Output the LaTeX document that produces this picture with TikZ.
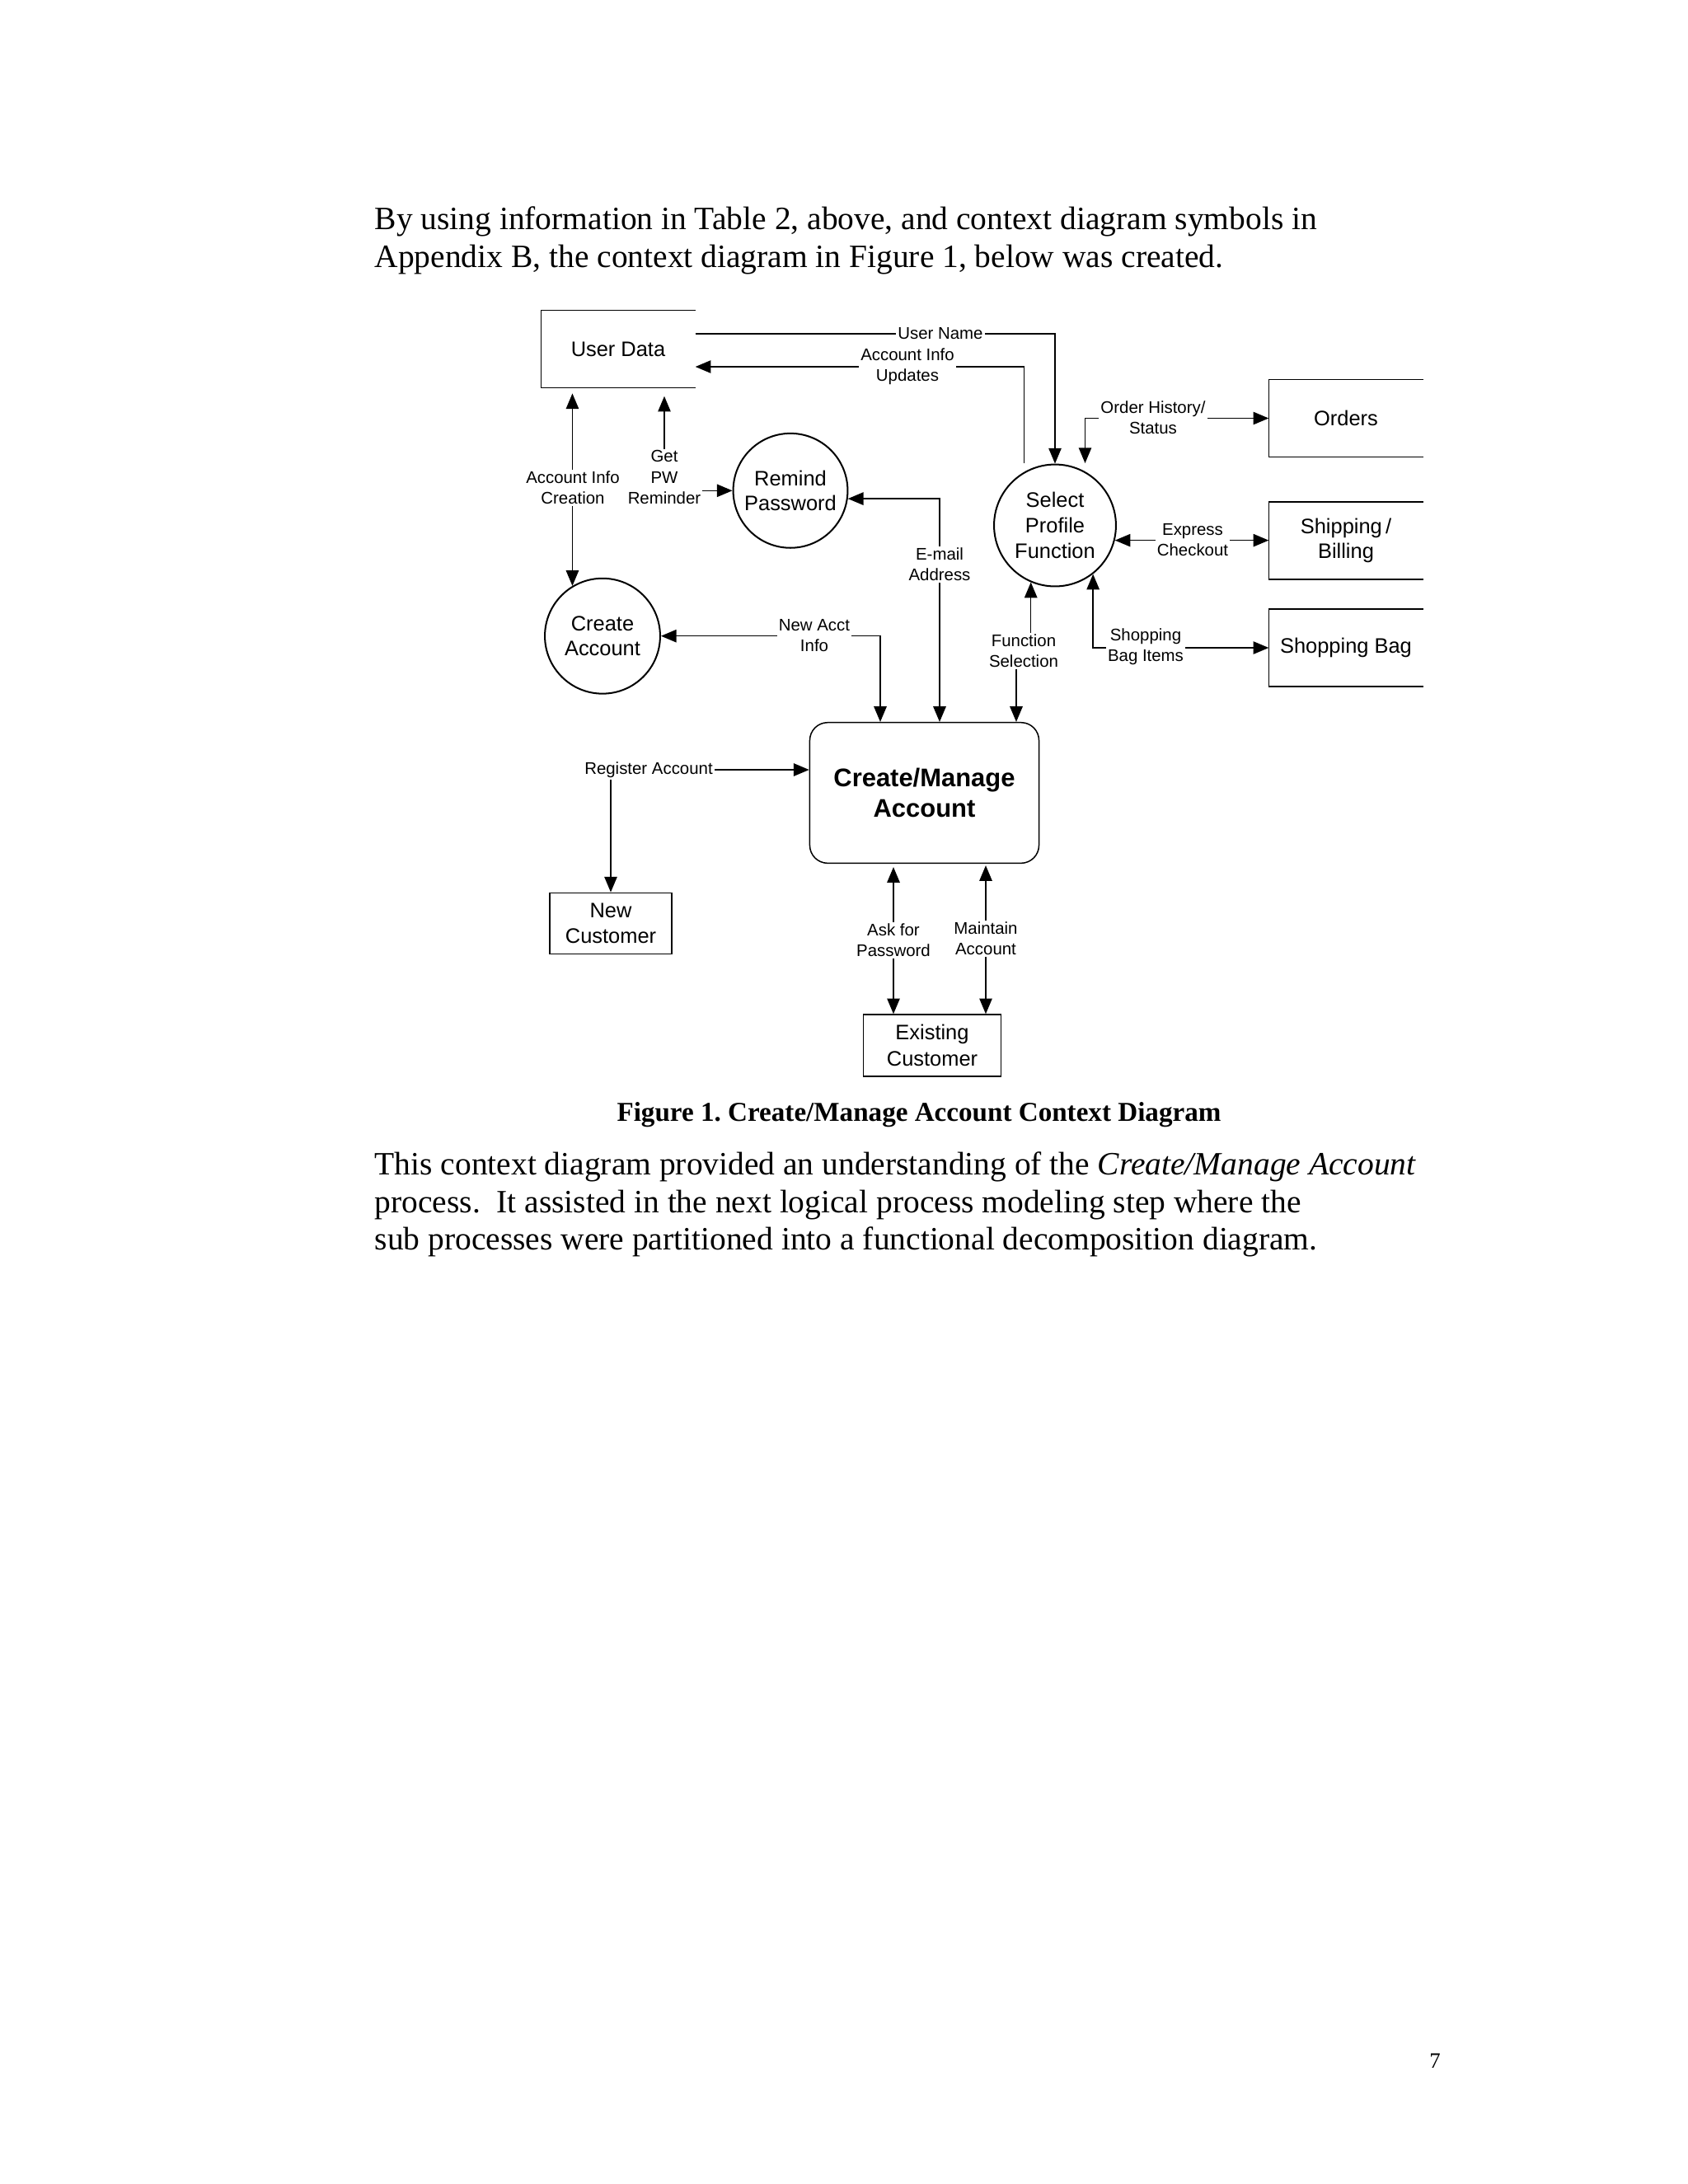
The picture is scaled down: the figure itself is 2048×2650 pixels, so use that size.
\documentclass[tikz,border=0pt]{standalone}
\usepackage{fontspec}
\setmainfont{Liberation Serif}
\setsansfont{Liberation Sans}
\usepackage{tikz}
\usetikzlibrary{arrows.meta,backgrounds}
\frenchspacing

\tikzset{
  store/.style={minimum width=55.6pt,minimum height=27.8pt,inner sep=0pt,align=center,font=\sffamily\fontsize{7.6}{9.2}\selectfont},
  proc/.style={circle,draw,line width=0.6pt,inner sep=0pt,align=center,font=\sffamily\fontsize{7.6}{9.2}\selectfont},
  ext/.style={draw,line width=0.45pt,inner sep=0pt,align=center,font=\sffamily\fontsize{7.6}{9.5}\selectfont},
  lbl/.style={fill=white,inner sep=0.6pt,align=center,font=\sffamily\fontsize{6.1}{7.5}\selectfont},
  flow/.style={line width=0.45pt,-{Triangle[length=5.6pt,width=4.6pt]}},
  flowboth/.style={line width=0.45pt,{Triangle[length=5.6pt,width=4.6pt]}-{Triangle[length=5.6pt,width=4.6pt]}},
  txt/.style={anchor=base west,inner sep=0pt,font=\fontsize{11.8}{13.6}\selectfont}
}

\begin{document}
\begin{tikzpicture}[x=0.29883pt,y=-0.29883pt]
\useasboundingbox (0,0) rectangle (2048,2650);

\node[txt] (t1) at (454,278.5) {By using information in Table 2, above, and context diagram symbols in};
\node[txt] (t2) at (454,324) {Appendix B, the context diagram in Figure 1, below was created.};

% stores
\node[store] (ud) at (750,423.5) {User Data};
\node[store] (ord) at (1633,507.5) {Orders};
\node[store] (ship) at (1633,656) {Shipping\,/\\Billing};
\node[store] (bag) at (1633,786) {Shopping Bag};
\foreach \s in {ud,ord,ship,bag}
  \draw[line width=0.45pt] (\s.north east) -- (\s.north west) -- (\s.south west) -- (\s.south east);

% processes
\node[proc,minimum size=44.2pt] (spf) at (1280,637.5) {Select\\Profile\\Function};
\node[proc,minimum size=41.5pt] (rp) at (959,595.3) {Remind\\Password};
\node[proc,minimum size=41.8pt] (ca) at (731,771.7) {Create\\Account};
\node[ext,rounded corners=6.5pt,minimum width=83.1pt,minimum height=51pt,
      font=\sffamily\bfseries\fontsize{9.25}{11.3}\selectfont] (cma) at (1121.5,962) {Create/Manage\\Account};
\node[ext,minimum width=44.2pt,minimum height=22.1pt] (nc) at (741,1120.3) {New\\Customer};
\node[ext,minimum width=50pt,minimum height=22.4pt] (ec) at (1131,1268.5) {Existing\\Customer};

% flow labels
\node[lbl] (lun) at (1141,405) {User Name};
\node[lbl] (laiu) at (1101,445) {Account Info\\Updates};
\node[lbl] (laic) at (695,592) {Account Info\\Creation};
\node[lbl] (lgpw) at (806,579) {Get\\PW\\Reminder};
\node[lbl] (lema) at (1140,685) {E-mail\\Address};
\node[lbl] (lnai) at (988,771.5) {New Acct\\Info};
\node[lbl] (lfs) at (1242,790) {Function\\Selection};
\node[lbl] (lsbi) at (1390,785) {Shopping\\Bag Items};
\node[lbl] (lexp) at (1447,655.5) {Express\\Checkout};
\node[lbl] (lohs) at (1399,506.7) {Order History/\\Status};
\node[lbl] (lra) at (787,934) {Register Account};
\node[lbl] (lafp) at (1084,1140.8) {Ask for\\Password};
\node[lbl] (lma) at (1196,1139) {Maintain\\Account};

\coordinate (aiu) at (1242.5,562);
\coordinate (ohs) at (1316.5,562);
\coordinate (nai) at (1068,771.7);
\coordinate (fsl) at (1233,877);

\begin{scope}[on background layer]
\fill[white] (0,0) rectangle (2048,2650);
\draw[flow] (ud.east |- lun) -- (lun -| spf.north) -- (spf.north);
\draw[flow] (aiu) -- (aiu |- laiu) -- (ud.east |- laiu);
\draw[flowboth,shorten <=2pt] (ud.south -| ca.121) -- (ca.121);
\draw[flowboth,shorten <=3pt] (ud.south -| lgpw) -- (lgpw |- rp.west) -- (rp.west);
\draw[flowboth] (rp.-8) -- (rp.-8 -| lema) -- (lema |- cma.north);
\draw[flowboth] (ca.east) -- (nai) -- (nai |- cma.north);
\draw[flowboth] (spf.247) -- (spf.247 |- lfs) -- (fsl |- lfs) -- (fsl |- cma.north);
\draw[flowboth] (spf.-52) -- (spf.-52 |- bag.west) -- (bag.west);
\draw[flowboth] (spf.-14) -- (spf.-14 -| ship.west);
\draw[flowboth] (ohs) -- (ohs |- ord.west) -- (ord.west);
\draw[flowboth] (nc.north) -- (nc.north |- lra) -- (lra -| cma.west);
\draw[flowboth,shorten <=1.2pt] (lafp |- cma.south) -- (lafp |- ec.north);
\draw[flowboth,shorten <=0.6pt] (lma |- cma.south) -- (lma |- ec.north);
\end{scope}

\node[anchor=base,inner sep=0pt,font=\bfseries\fontsize{9.9}{12}\selectfont] (cap) at (1115,1360.5)
  {Figure 1. Create/Manage Account Context Diagram};

\node[txt] (p1) at (454,1425) {This context diagram provided an understanding of the \textit{Create/Manage Account}};
\node[txt] (p2) at (454,1471) {process.\ \ It assisted in the next logical process modeling step where the};
\node[txt] (p3) at (454,1516.5) {sub processes were partitioned into a functional decomposition diagram.};

\node[anchor=base,inner sep=0pt,font=\fontsize{8}{9.6}\selectfont] (pg) at (1741,2509) {7};
\end{tikzpicture}
\end{document}
